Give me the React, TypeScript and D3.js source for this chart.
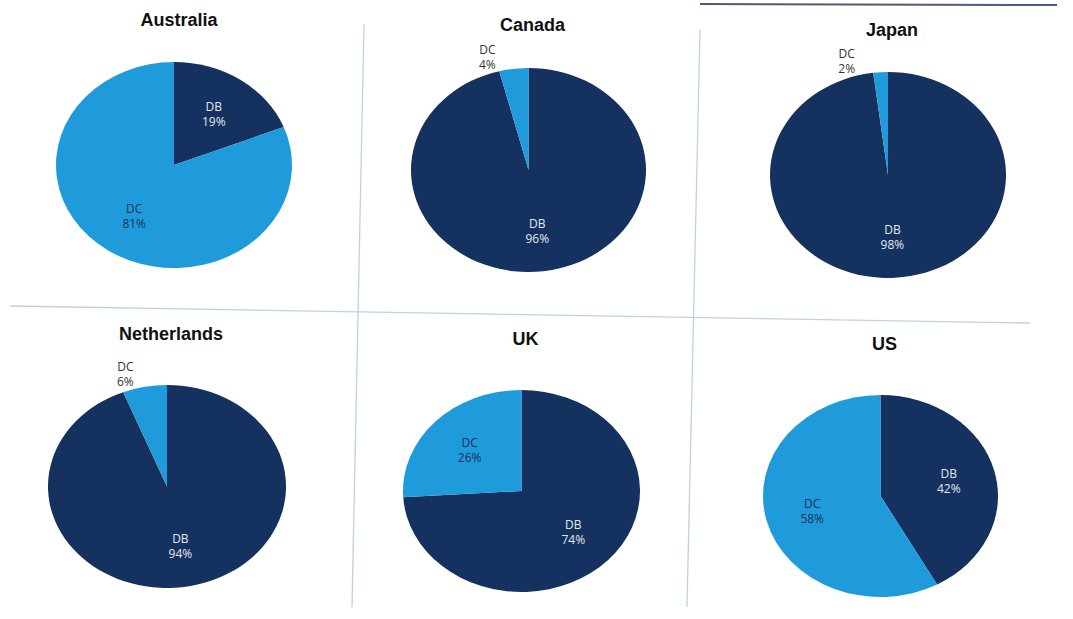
import React from "react";
import * as d3 from "d3";

// ---- data ----
const countries = ["Australia", "Canada", "Japan", "Netherlands", "UK", "US"];
const seriesNames = ["DB", "DC"];
const dbShare = [19, 96, 98, 94, 74, 42];
const dcShare = [81, 4, 2, 6, 26, 58];

// ---- layout (panel centres and ellipse radii, from the scanned page) ----
const panelCx = [174, 528.5, 888, 167, 521.5, 880.5];
const panelCy = [165, 170, 175, 486.5, 491, 496];
const panelRx = [118, 117.5, 118, 119, 118.5, 117.5];
const panelRy = [103, 102, 103, 101.5, 101, 101];
const titleDy = [-139, -139, -139, -147, -146, -146];
const titleDx = [5, 4, 4, 4, 4, 4];

const W = 1073;
const H = 619;
const DARK = "#15315f";
const LIGHT = "#1f9bdb";
const GRID = "#bcd2e3";

const R = 100;
const pie = d3.pie<number>().sort(null).value((d) => d);
const arc = d3.arc<d3.PieArcDatum<number>>().innerRadius(0).outerRadius(R);
const labelArc = d3.arc<d3.PieArcDatum<number>>().innerRadius(R * 0.6).outerRadius(R * 0.6);

const fmt = (v: number) => `${d3.format("d")(v)}%`;

function Panel({ i }: { i: number }) {
  const values = [dbShare[i], dcShare[i]];
  const arcs = pie(values);
  const cx = panelCx[i];
  const cy = panelCy[i];
  const sx = panelRx[i] / R;
  const sy = panelRy[i] / R;
  const colors = [DARK, LIGHT];
  return (
    <g>
      <text
        x={cx + titleDx[i]}
        y={cy + titleDy[i]}
        textAnchor="middle"
        fontFamily="Liberation Sans, Arial, sans-serif"
        fontWeight="bold"
        fontSize={18}
        fill="#111"
      >
        {countries[i]}
      </text>
      <g transform={`translate(${cx},${cy}) scale(${sx},${sy})`}>
        {arcs.map((a, k) => (
          <path key={k} d={arc(a) || ""} fill={colors[k]} />
        ))}
      </g>
      {arcs.map((a, k) => {
        const share = a.value;
        let lx: number;
        let ly: number;
        let fill: string;
        if (share < 10) {
          // small slice: label sits outside, above-left of the pie
          lx = cx - 0.35 * panelRx[i];
          ly = cy - panelRy[i] - 11;
          fill = "#333";
        } else {
          const [px, py] = labelArc.centroid(a);
          lx = cx + px * sx;
          ly = cy + py * sy;
          fill = k === 0 ? "#e3e8f0" : "#1b2f58";
        }
        return (
          <text
            key={`l${k}`}
            x={lx}
            textAnchor="middle"
            fontFamily="Open Sans, DejaVu Sans, sans-serif"
            fontSize={12}
            fill={fill}
          >
            <tspan x={lx} y={ly - 3}>{seriesNames[k]}</tspan>
            <tspan x={lx} y={ly + 12}>{fmt(share)}</tspan>
          </text>
        );
      })}
    </g>
  );
}

export default function App() {
  return (
    <svg
      width={W}
      height={H}
      viewBox={`0 0 ${W} ${H}`}
      style={{ position: "absolute", left: 0, top: 0, background: "#fff" }}
    >
      <rect x={0} y={0} width={W} height={H} fill="#fff" />
      {/* page rules from the scan */}
      <line x1={700} y1={4} x2={1057} y2={5} stroke="#4b5a75" strokeWidth={2} />
      <line x1={364} y1={24} x2={352} y2={607} stroke={GRID} strokeWidth={1.3} />
      <line x1={700} y1={30} x2={687} y2={607} stroke={GRID} strokeWidth={1.3} />
      <line x1={10} y1={306} x2={1030} y2={323} stroke={GRID} strokeWidth={1.3} />
      {countries.map((_, i) => (
        <Panel key={i} i={i} />
      ))}
    </svg>
  );
}
